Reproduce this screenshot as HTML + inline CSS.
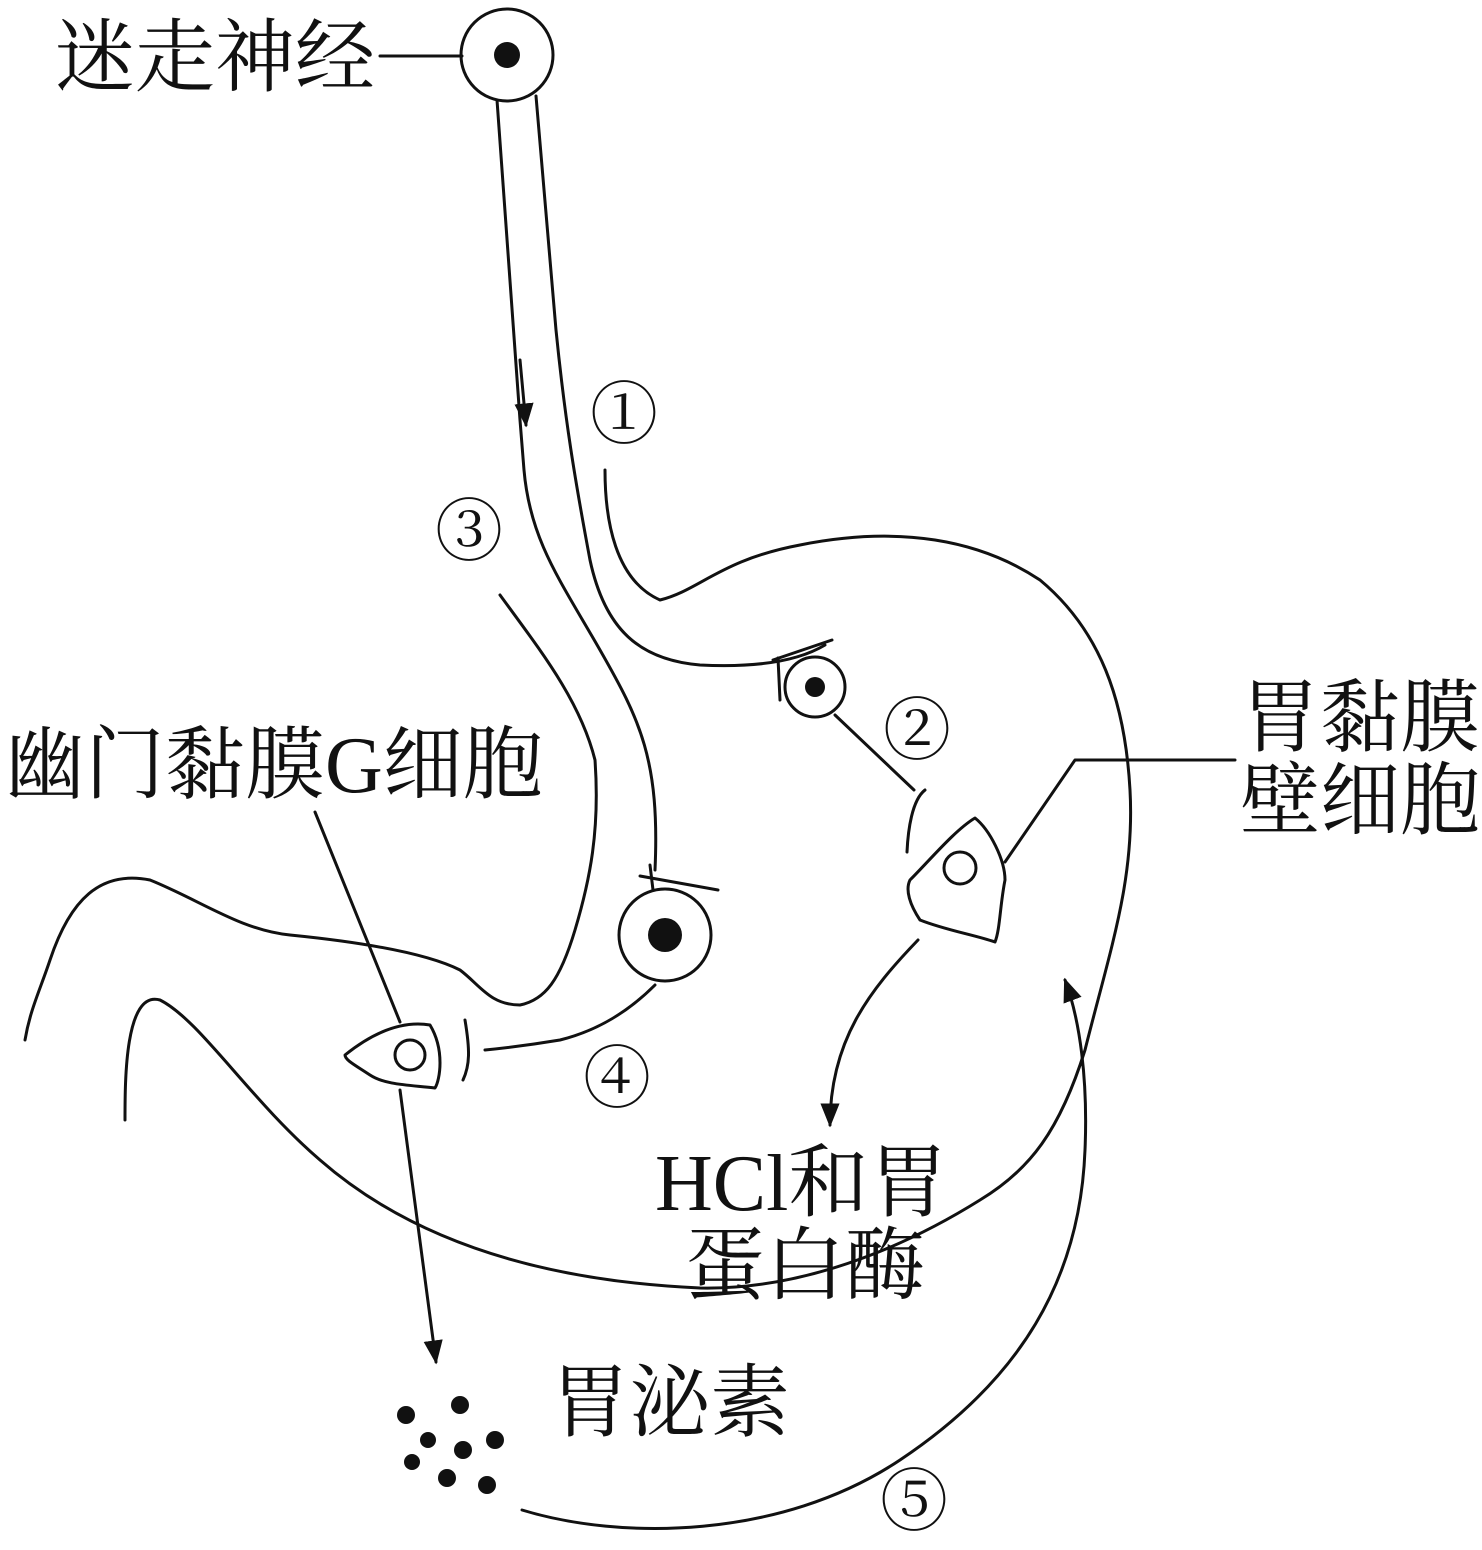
<!DOCTYPE html>
<html><head><meta charset="utf-8"><style>
html,body{margin:0;padding:0;background:#fff}
svg{display:block}
text{font-family:"Liberation Serif","Noto Serif CJK SC",serif;fill:#111}
</style></head><body>
<svg width="1482" height="1550" viewBox="0 0 1482 1550" xmlns="http://www.w3.org/2000/svg">
<defs><marker id="ah" viewBox="0 0 10 10" refX="9" refY="5" markerWidth="8" markerHeight="8" orient="auto-start-reverse"><path d="M0,1 L10,5 L0,9 Z" fill="#111"/></marker></defs>
<g fill="none" stroke="#111" stroke-width="3" stroke-linecap="round" stroke-linejoin="round">
<line x1="380" y1="56" x2="462" y2="56"/>
<circle cx="507" cy="55" r="46"/>
<path d="M497,100 L520,420 L524,470 C530,540 560,580 600,650 C640,720 660,760 655,870"/>
<path d="M536,96 L556,330 C565,420 575,480 590,560 C605,630 640,660 700,665 C760,668 800,660 825,645"/>
<line x1="520" y1="360" x2="526" y2="425" marker-end="url(#ah)"/>
<path d="M605,470 C605,520 615,580 660,600 C700,590 720,560 800,545 C900,525 980,540 1040,580 C1100,630 1125,700 1130,790 C1135,880 1110,950 1085,1050 C1060,1130 1030,1170 980,1200 C900,1250 800,1290 700,1288 C520,1280 400,1230 320,1160 C250,1100 200,1020 160,1000 C125,990 125,1080 125,1120"/>
<path d="M500,595 C540,650 580,700 595,760 C600,830 590,880 575,930 C560,980 545,1000 520,1005 C490,1005 480,985 460,970 C420,950 340,940 290,935 C240,930 200,900 150,880 C100,870 70,900 50,960 C40,990 30,1010 25,1040"/>
<path d="M655,985 C630,1010 600,1030 560,1040 C530,1045 505,1048 485,1050"/>
<path d="M465,1020 C470,1050 470,1065 463,1080"/>
<circle cx="665" cy="935" r="46"/>
<path d="M650,865 L653,890"/>
<path d="M640,876 L718,890"/>
<circle cx="815" cy="687" r="30"/>
<path d="M773,660 L832,640"/>
<path d="M778,658 L780,700"/>
<line x1="835" y1="715" x2="914" y2="790"/>
<path d="M925,790 C912,800 908,830 907,852"/>
<path d="M910,880 C930,860 955,830 975,818 C990,830 1005,860 1005,880 C1000,905 1000,930 995,942 C975,935 945,930 920,920 C910,905 905,890 910,880 Z"/>
<circle cx="960" cy="868" r="16"/>
<path d="M1005,862 L1075,760 L1235,760"/>
<path d="M345,1055 C370,1035 400,1020 430,1025 C445,1050 440,1080 435,1088 C410,1085 385,1085 370,1075 C355,1065 345,1060 345,1055 Z"/>
<circle cx="410" cy="1055" r="15"/>
<line x1="315" y1="812" x2="400" y2="1022"/>
<line x1="400" y1="1090" x2="436" y2="1362" marker-end="url(#ah)"/>
<path d="M918,940 C870,990 830,1040 830,1125" marker-end="url(#ah)"/>
<path d="M522,1510 C620,1540 780,1540 900,1460 C1020,1380 1080,1280 1085,1150 C1088,1080 1080,1020 1065,980" marker-end="url(#ah)"/>
</g>
<g fill="#111">
<circle cx="507" cy="55" r="13"/>
<circle cx="665" cy="935" r="17"/>
<circle cx="815" cy="687" r="10"/>
<circle cx="406" cy="1415" r="9"/><circle cx="460" cy="1405" r="9"/>
<circle cx="428" cy="1440" r="8"/><circle cx="463" cy="1450" r="9"/>
<circle cx="495" cy="1440" r="9"/><circle cx="412" cy="1462" r="8"/>
<circle cx="447" cy="1478" r="9"/><circle cx="487" cy="1485" r="9"/>
</g>
<g font-size="80">
<text x="55" y="85">迷走神经</text>
<text x="1240" y="745">胃黏膜</text>
<text x="1240" y="828">壁细胞</text>
<text x="5" y="792">幽门黏膜G细胞</text>
<text x="655" y="1210">HCl和胃</text>
<text x="685" y="1293">蛋白酶</text>
<text x="550" y="1430">胃泌素</text>
</g>
<g font-size="68">
<text x="590" y="438">①</text>
<text x="883" y="754">②</text>
<text x="435" y="555">③</text>
<text x="583" y="1102">④</text>
<text x="880" y="1525">⑤</text>
</g>
</svg>
</body></html>
